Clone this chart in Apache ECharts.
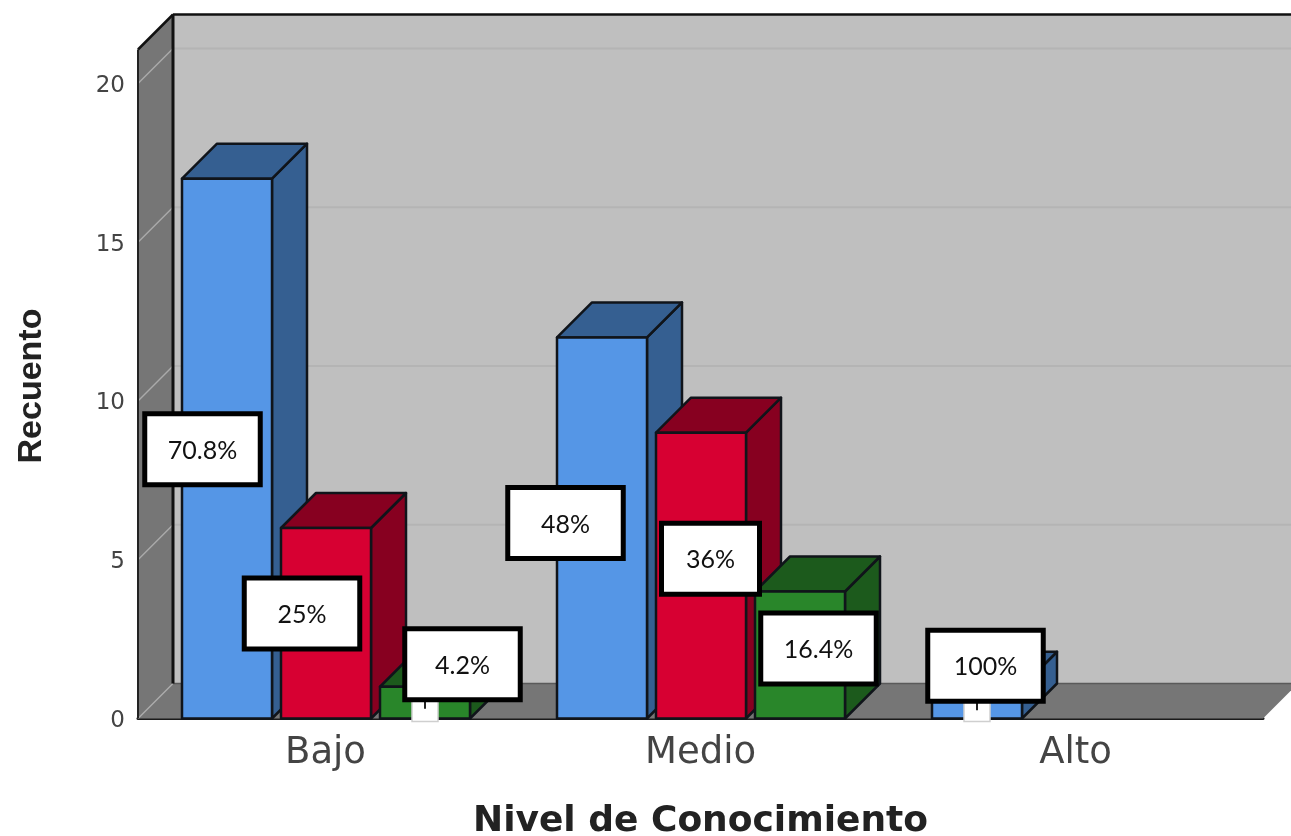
<!DOCTYPE html>
<html>
<head>
<meta charset="utf-8">
<style>html,body{margin:0;padding:0;background:#fff}#c{width:1291px;height:836px}</style>
<script src="https://cdn.jsdelivr.net/npm/echarts@6/dist/echarts.min.js"></script>
</head>
<body>
<div id="c"></div>
<script>
const categories = ['Bajo', 'Medio', 'Alto'];
const yTicks = [0, 5, 10, 15, 20];
const seriesA = [17, 12, 1];
const seriesB = [6, 9, 0];
const seriesC = [1, 4, 0];
const labelsA = ['70.8%', '48%', '100%'];
const labelsB = ['25%', '36%', ''];
const labelsC = ['4.2%', '16.4%', ''];

const DX = 35, DY = 35;
const BAR_W = 90, BAR_STEP = 99;
const palette = [
  { front: '#5596e6', dark: '#355f91' },
  { front: '#d70032', dark: '#870020' },
  { front: '#29862a', dark: '#1c5a1c' }
];
const EDGE = '#10141a';
// label box placement per bar [centre dx, centre dy from bar top, width, small tag]
const labelPlace = [
  [[-24.5, 270.5, 115.5, 0], [-36.5, 185.5, 115.5, 0], [8.5, -21, 115.5, 1]],
  [[-24, 85.5, 115.5, 0], [9.5, 126, 98, 0], null],
  [[37.5, -22.5, 115.5, 1], [18.5, 57, 115.5, 0], null]
];

function poly(points, fill, stroke, lw) {
  return { type: 'polygon', shape: { points }, style: { fill, stroke: stroke || fill, lineWidth: lw == null ? 1 : lw, lineJoin: 'round' } };
}
function line(x1, y1, x2, y2, stroke, lw) {
  return { type: 'line', shape: { x1, y1, x2, y2 }, style: { stroke, lineWidth: lw } };
}

function renderWalls(params, api) {
  const g = params.coordSys;
  const l = g.x, t = g.y, r = g.x + g.width, b = g.y + g.height;
  const c = [];
  c.push(poly([[l + DX, t - DY], [r + DX, t - DY], [r + DX, b - DY], [l + DX, b - DY]], '#bfbfbf', '#bfbfbf', 0));
  c.push(poly([[l, t], [l + DX, t - DY], [l + DX, b - DY], [l, b]], '#767676', '#767676', 0));
  c.push(poly([[l, b], [l + DX, b - DY], [r + DX, b - DY], [r, b]], '#767676', '#767676', 0));
  yTicks.forEach(v => {
    const y = api.coord([0, v])[1];
    if (v > 0) c.push(line(l + DX, y - DY, r + DX, y - DY, '#b4b4b4', 2));
    c.push(line(l, y, l + DX, y - DY, '#aaaaaa', 1.5));
  });
  c.push(line(l + DX, b - DY, r + DX, b - DY, '#5a5a5a', 1.5));
  c.push(line(l, t, l + DX, t - DY, '#111', 2.5));
  c.push(line(l + DX, t - DY, r + DX, t - DY, '#111', 2.5));
  c.push(line(l + DX, t - DY, l + DX, b - DY, '#111', 3));
  c.push(line(l, t, l, b, '#222', 2));
  return { type: 'group', children: c };
}

function barFrame(api, seriesIdx) {
  const cat = api.value(0), val = api.value(1);
  const base = api.coord([cat, 0]);
  const top = api.coord([cat, val]);
  const x0 = base[0] - 143.5 + seriesIdx * BAR_STEP;
  return { x0, x1: x0 + BAR_W, yTop: top[1], yBase: base[1] };
}

function renderBar(seriesIdx) {
  return function (params, api) {
    if (!api.value(1)) return null;
    const f = barFrame(api, seriesIdx), p = palette[seriesIdx];
    return {
      type: 'group',
      children: [
        poly([[f.x1, f.yTop], [f.x1 + DX, f.yTop - DY], [f.x1 + DX, f.yBase - DY], [f.x1, f.yBase]], p.dark, EDGE, 2.5),
        poly([[f.x0, f.yTop], [f.x0 + DX, f.yTop - DY], [f.x1 + DX, f.yTop - DY], [f.x1, f.yTop]], p.dark, EDGE, 2.5),
        poly([[f.x0, f.yTop], [f.x1, f.yTop], [f.x1, f.yBase], [f.x0, f.yBase]], p.front, EDGE, 2.5)
      ]
    };
  };
}

function renderLabel(seriesIdx, texts) {
  return function (params, api) {
    const i = params.dataIndex, place = labelPlace[seriesIdx][i];
    if (!place) return null;
    const f = barFrame(api, seriesIdx);
    const cx = (f.x0 + f.x1) / 2 + place[0], cy = f.yTop + place[1], w = place[2], h = 71;
    const c = [];
    if (place[3]) {
      const mx = (f.x0 + f.x1) / 2;
      c.push({ type: 'rect', shape: { x: mx - 13, y: cy + h / 2, width: 26, height: f.yBase + 3 - cy - h / 2 },
        style: { fill: '#fff', stroke: '#cfcfcf', lineWidth: 1.5 } });
      c.push(line(mx, cy + h / 2, mx, cy + h / 2 + 9, '#222', 2));
    }
    c.push({ type: 'rect', shape: { x: cx - w / 2, y: cy - h / 2, width: w, height: h },
      style: { fill: '#fff', stroke: '#000', lineWidth: 5 } });
    c.push({ type: 'text', style: { text: texts[i], x: cx, y: cy + 1.5, align: 'center', verticalAlign: 'middle',
      fill: '#111', font: '25px Lato' } });
    return { type: 'group', children: c };
  };
}

const barSets = [seriesA, seriesB, seriesC];
const labelSets = [labelsA, labelsB, labelsC];
const series = [{
  type: 'custom', name: 'walls', z: 1, silent: true, renderItem: renderWalls,
  data: [[0, 0]], encode: { x: 0, y: 1 }
}];
barSets.forEach((vals, s) => series.push({
  type: 'custom', name: 'bars' + s, z: 2 + s, silent: true, renderItem: renderBar(s),
  data: vals.map((v, i) => [i, v]), encode: { x: 0, y: 1 }
}));
labelSets.forEach((texts, s) => series.push({
  type: 'custom', name: 'labels' + s, z: 10, silent: true, renderItem: renderLabel(s, texts),
  data: barSets[s].map((v, i) => [i, v]), encode: { x: 0, y: 1 }
}));

const chart = echarts.init(document.getElementById('c'));
chart.setOption({
  animation: false,
  backgroundColor: '#fff',
  grid: { left: 138, top: 49.5, width: 1125, height: 669, containLabel: false, outerBoundsMode: 'none' },
  xAxis: {
    type: 'category', data: categories,
    name: 'Nivel de Conocimiento', nameLocation: 'middle', nameGap: 85,
    nameTextStyle: { fontFamily: 'DejaVu Sans', fontWeight: 'bold', fontSize: 36, color: '#222' },
    axisLine: { show: true, onZero: false, lineStyle: { color: '#1a1a1a', width: 3 } },
    axisTick: { show: false },
    axisLabel: { fontFamily: 'DejaVu Sans', fontSize: 37, color: '#444', margin: 16 },
    splitLine: { show: false }
  },
  yAxis: {
    type: 'value', min: 0, max: 21.07, interval: 5,
    name: 'Recuento', nameLocation: 'middle', nameGap: 89, nameRotate: 90,
    nameTextStyle: { fontFamily: 'Liberation Sans', fontWeight: 'bold', fontSize: 34, color: '#222', padding: [0, 4, 0, 0] },
    axisLine: { show: false }, axisTick: { show: false }, splitLine: { show: false },
    axisLabel: { fontFamily: 'DejaVu Sans', fontSize: 23, color: '#444', margin: 13, showMaxLabel: false, verticalAlign: 'top', lineHeight: 5 }
  },
  series
});
</script>
</body>
</html>
